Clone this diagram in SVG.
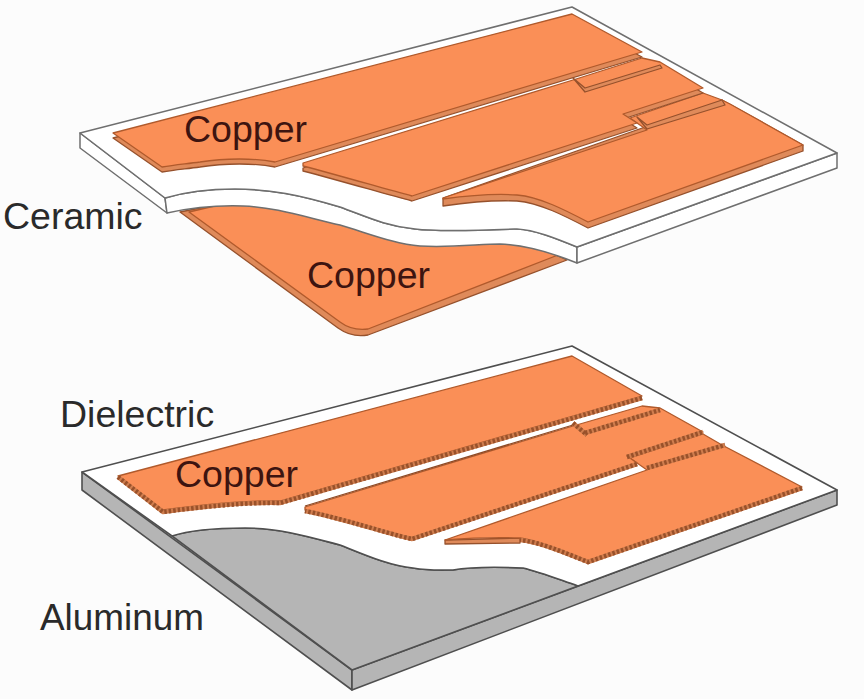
<svg xmlns="http://www.w3.org/2000/svg" width="864" height="699" viewBox="0 0 864 699">
<style>
.slab{fill:#fff;stroke:#6f6f6f;stroke-width:1.5;stroke-linejoin:round}
.al{fill:#b5b5b5;stroke:#4f4f4f;stroke-width:1.6;stroke-linejoin:round}
.face{fill:#fa8f57;stroke:#b05a2c;stroke-width:1.3;stroke-linejoin:round}
.side{fill:#df8a5a;stroke:#96512c;stroke-width:1.3;stroke-linejoin:round}
.under{fill:none;stroke:#cf7d4e;stroke-width:4.5}
.hatch{fill:none;stroke:#99512a;stroke-width:4.5;stroke-dasharray:2.5 2}
.edge{fill:none;stroke:#8f4a25;stroke-width:1.3}
text{font-family:"Liberation Sans",Arial,sans-serif;font-size:37.5px}
.on{fill:#3d1410}
.off{fill:#2a2a2a}
</style>
<rect width="864" height="699" fill="#fcfcfc"/>

<g id="top-bottom-copper">
<path class="side" d="M180,212 L338,328 Q352,338 368,335 L567,260 L500,230 L240,200 Z"/>
<path class="face" d="M189,212 L340,322 Q352,331 368,329 L558,255 L500,230 L240,200 Z"/>
</g>

<g id="top-ceramic">
<path class="slab" d="M80,133 L165,198 L167,213 L80,148 Z"/>
<path class="slab" d="M165,198 C185,192 205,189 235,189 C270,189 300,195 340,207 C365,216 385,226 415,229 C440,232 490,230 517,229 C535,230 555,238 577,247 L577,263 C550,252 525,245 500,244 C480,244 450,248 420,246 C395,244 370,234 340,225 C305,217 275,207 243,206 C215,205 190,208 167,213 Z"/>
<path class="slab" d="M577,247 L837,153 L837,168 L577,263 Z"/>
<path class="slab" d="M80,133 L572,7 L837,153 L577,247 C555,238 535,230 517,229 C490,230 440,232 415,229 C385,226 365,216 340,207 C300,195 270,189 235,189 C205,189 185,192 165,198 Z"/>
</g>

<g id="top-copper-3">
<path class="side" d="M443,198 L443,206 C470,202 495,200 517,201 C540,203 565,216 588,228 L803,151 L803,145 L722,100 L443,198 Z"/>
<path class="face" d="M443,198 L647,130 L630,118 L703,93 L722,100 L730,104 L803,145 L588,222 C565,210 540,197 517,195 C490,193 465,196 443,199 Z"/>
</g>
<g id="top-copper-2">
<path class="side" transform="translate(0,5)" d="M303,163 L573,80 L642,58 L660,62 L703,88 L623,114 L637,123 L412,196 C385,189 345,177 303,166 Z"/>
<path class="face" d="M303,163 L573,80 L642,58 L660,62 L703,88 L623,114 L637,123 L412,196 C385,189 345,177 303,166 Z"/>
</g>
<g id="top-copper-1">
<path class="side" transform="translate(0,5)" d="M113,133 L572,14 L642,52 L275,162 C255,158 225,158 200,162 C185,164 175,165 162,167 Z"/>
<path class="face" d="M113,133 L572,14 L642,52 L275,162 C255,158 225,158 200,162 C185,164 175,165 162,167 Z"/>
</g>
<g id="top-finger-1">
<path class="side" d="M573,78 L585,88 L660,65 L662,68 L585,92 Z"/>
</g>
<g id="top-finger-2">
<path class="side" d="M637,117 L647,125 L722,100 L725,105 L647,129 Z"/>
</g>

<g id="bottom-aluminum">
<path class="al" d="M82,472 L352,670 L352,690 L82,490 Z"/>
<path class="al" d="M352,670 L837,490 L837,505 L352,690 Z"/>
<path class="al" d="M172,536 C190,530 215,528 245,528 C280,528 310,537 340,545 C365,555 390,566 413,568 C430,571 445,570 453,570 C470,567 500,567 523,568 C540,572 555,578 578,586 L352,670 Z"/>
</g>
<g id="bottom-dielectric">
<path fill="#fff" stroke="#4f4f4f" stroke-width="1.6" stroke-linejoin="round" d="M82,472 L572,346 L837,490 L578,586 C555,578 540,572 523,568 C500,567 470,567 453,570 C445,570 430,571 413,568 C390,566 365,555 340,545 C310,537 280,528 245,528 C215,528 190,530 172,536 Z"/>
</g>

<g id="bottom-copper-3">
<path class="side" d="M445,540 L445,544 L520,543 L520,538 Z"/>
<path class="face" d="M445,540 L647,470 L630,458 L703,434 L722,445 L802,487 L588,561 C565,552 540,541 520,538 C495,537 470,538 445,540 Z"/>
<path class="under" d="M802,488 L588,562 C565,553 540,542 520,540"/>
<path class="hatch" d="M802,488 L588,562 C565,553 540,542 520,540"/>
</g>
<g id="bottom-copper-2">
<path class="face" d="M305,507 L573,426 L642,406 L660,408 L703,432 L627,456 L637,463 L412,538 C385,532 345,518 305,510 Z"/>
<path class="under" d="M637,464 L412,539 C385,533 345,519 305,511"/>
<path class="hatch" d="M637,464 L412,539 C385,533 345,519 305,511"/>
<path class="edge" d="M305,506 L573,425"/>
</g>
<g id="bottom-copper-1">
<path class="face" d="M118,476 L572,356 L642,396 L280,501 C250,500 200,505 163,510 Z"/>
<path class="under" d="M642,398 L280,503 C250,502 200,507 163,512 L118,477"/>
<path class="hatch" d="M642,398 L280,503 C250,502 200,507 163,512 L118,477"/>
</g>
<g id="bottom-finger-1">
<path class="under" d="M585,433 L660,410 M573,423 L587,435"/>
<path class="hatch" d="M585,433 L660,410 M573,423 L587,435"/>
</g>
<g id="bottom-finger-2">
<path class="under" d="M647,468 L725,445 M627,457 L703,432"/>
<path class="hatch" d="M647,468 L725,445 M627,457 L703,432"/>
</g>

<g id="labels">
<text class="on" x="184" y="142">Copper</text>
<text class="off" x="3" y="229">Ceramic</text>
<text class="on" x="307" y="288">Copper</text>
<text class="off" x="60" y="427">Dielectric</text>
<text class="on" x="175" y="487">Copper</text>
<text class="off" x="40" y="630" textLength="164" lengthAdjust="spacingAndGlyphs">Aluminum</text>
</g>
</svg>
